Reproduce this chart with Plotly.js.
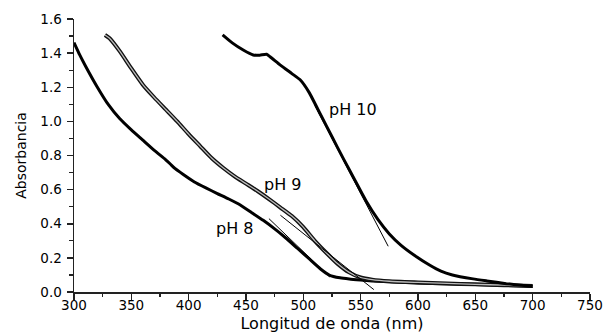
<!DOCTYPE html>
<html>
<head>
<meta charset="utf-8">
<script src="https://cdn.plot.ly/plotly-3.0.1.min.js"></script>
<style>html,body{margin:0;padding:0;background:#fff;}#chart{width:605px;height:333px;}</style>
</head>
<body>
<div id="chart"></div>
<script>
// pH 8 spectrum
var ph8X = [300, 305, 310, 320, 330, 340, 350, 360, 370, 380, 384, 388, 395, 405, 415, 425, 435, 445, 455, 465, 475, 485, 495, 505, 515, 523, 532, 540, 550, 560, 580, 600, 625, 650, 675, 700];
var ph8Y = [1.462, 1.39, 1.325, 1.205, 1.098, 1.015, 0.95, 0.89, 0.83, 0.775, 0.75, 0.724, 0.69, 0.645, 0.61, 0.577, 0.545, 0.51, 0.465, 0.42, 0.37, 0.315, 0.255, 0.195, 0.135, 0.098, 0.083, 0.076, 0.07, 0.065, 0.058, 0.053, 0.048, 0.044, 0.039, 0.033];
// pH 9 spectrum
var ph9X = [327, 331, 340, 350, 360, 370, 380, 390, 400, 410, 420, 430, 440, 450, 460, 470, 480, 490, 500, 510, 520, 530, 540, 550, 560, 575, 600, 625, 650, 675, 700];
var ph9Y = [1.506, 1.487, 1.41, 1.31, 1.215, 1.14, 1.07, 1.0, 0.925, 0.855, 0.785, 0.728, 0.678, 0.635, 0.592, 0.545, 0.495, 0.445, 0.38, 0.30, 0.23, 0.165, 0.115, 0.085, 0.072, 0.063, 0.056, 0.05, 0.045, 0.04, 0.035];
// pH 10 spectrum
var ph10X = [429.6, 438, 447.6, 456.3, 462, 468, 471, 480, 490, 497, 505, 515, 525, 535, 545, 555, 565, 575, 585, 599, 610, 620, 630, 648, 660, 677, 690, 700];
var ph10Y = [1.507, 1.46, 1.418, 1.389, 1.388, 1.393, 1.379, 1.33, 1.28, 1.245, 1.17, 1.04, 0.91, 0.78, 0.655, 0.53, 0.425, 0.34, 0.275, 0.205, 0.158, 0.122, 0.10, 0.077, 0.065, 0.049, 0.04, 0.033];
// tangent lines (band edge extrapolations)
var tan8X = [470, 523];
var tan8Y = [0.43, 0.088];
var tan9X = [480, 561.5];
var tan9Y = [0.45, 0.014];
var tan10X = [510, 574];
var tan10Y = [1.094, 0.268];
// labels
var labelText = ["pH 10", "pH 9", "pH 8"];
var labelX = [523, 466.5, 424.4];
var labelY = [1.07, 0.63, 0.37];

var FONT = "DejaVu Sans, Liberation Sans, Arial, sans-serif";
var curveLine = function (c, w) { return {color: c, width: w, shape: "spline", smoothing: 0.5}; };

var traces = [
  {x: ph8X, y: ph8Y, mode: "lines", line: curveLine("#000", 3), hoverinfo: "skip"},
  {x: ph9X, y: ph9Y, mode: "lines", line: curveLine("#111", 4), hoverinfo: "skip"},
  {x: ph9X, y: ph9Y, mode: "lines", line: curveLine("#bbb", 1.3), hoverinfo: "skip"},
  {x: ph10X, y: ph10Y, mode: "lines", line: curveLine("#000", 3), hoverinfo: "skip"},
  {x: tan8X, y: tan8Y, mode: "lines", line: {color: "#000", width: 1}, hoverinfo: "skip"},
  {x: tan9X, y: tan9Y, mode: "lines", line: {color: "#000", width: 1}, hoverinfo: "skip"},
  {x: tan10X, y: tan10Y, mode: "lines", line: {color: "#000", width: 1}, hoverinfo: "skip"}
];

var annotations = labelText.map(function (t, i) {
  return {x: labelX[i], y: labelY[i], xref: "x", yref: "y", text: t, showarrow: false, xshift: -3,
          xanchor: "left", yanchor: "middle", font: {family: FONT, size: 16, color: "#000"}};
});

var layout = {
  width: 605, height: 333,
  margin: {l: 74, r: 15, t: 19, b: 41, pad: 0},
  paper_bgcolor: "#fff", plot_bgcolor: "#fff",
  showlegend: false,
  font: {family: FONT, color: "#000"},
  xaxis: {
    range: [300, 750], dtick: 50, tick0: 300,
    showgrid: false, zeroline: false, showline: true, linecolor: "#222", linewidth: 1.5,
    ticks: "outside", ticklen: 6, tickwidth: 1.5, tickcolor: "#222",
    minor: {dtick: 25, ticks: "outside", ticklen: 3.5, tickwidth: 1.2, tickcolor: "#222", showgrid: false},
    tickfont: {family: FONT, size: 13.5, color: "#000"},
    ticklabelstandoff: -6,
    title: {text: "Longitud de onda (nm)", font: {family: FONT, size: 16, color: "#000"}, standoff: 15},
    automargin: false
  },
  yaxis: {
    range: [0, 1.6], dtick: 0.2, tick0: 0, tickformat: ".1f",
    showgrid: false, zeroline: false, showline: true, linecolor: "#222", linewidth: 1.5,
    ticks: "outside", ticklen: 6, tickwidth: 1.5, tickcolor: "#222",
    minor: {dtick: 0.1, ticks: "outside", ticklen: 3.5, tickwidth: 1.2, tickcolor: "#222", showgrid: false},
    tickfont: {family: FONT, size: 13.5, color: "#000"},
    ticklabelstandoff: 2,
    title: {text: "Absorbancia", font: {family: FONT, size: 14, color: "#000"}, standoff: 10},
    automargin: false
  },
  annotations: annotations
};

Plotly.newPlot("chart", traces, layout, {staticPlot: true, displayModeBar: false});
</script>
</body>
</html>
